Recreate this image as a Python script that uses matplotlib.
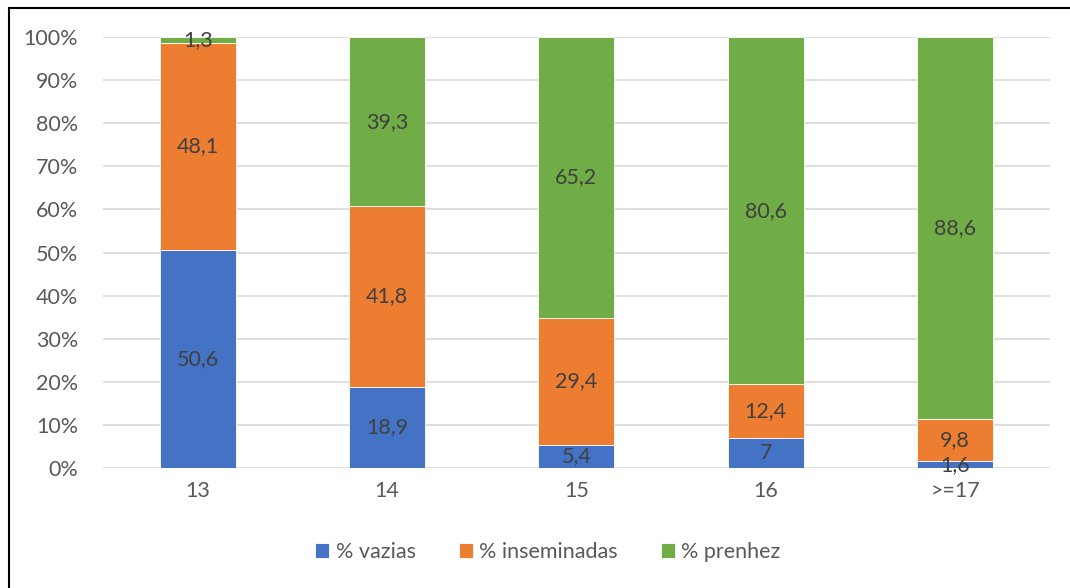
import numpy as np
import matplotlib.pyplot as plt
from matplotlib.lines import Line2D
from matplotlib.ticker import PercentFormatter

plt.rcParams['font.family'] = ['Lato', 'DejaVu Sans']

categorias = ['13', '14', '15', '16', '>=17']
vazias = [50.6, 18.9, 5.4, 7.0, 1.6]
inseminadas = [48.1, 41.8, 29.4, 12.4, 9.8]
prenhez = [1.3, 39.3, 65.2, 80.6, 88.6]
rotulos_vazias = ['50,6', '18,9', '5,4', '7', '1,6']
rotulos_inseminadas = ['48,1', '41,8', '29,4', '12,4', '9,8']
rotulos_prenhez = ['1,3', '39,3', '65,2', '80,6', '88,6']

fig = plt.figure(figsize=(10.7, 5.88), dpi=100)
ax = fig.add_axes([0.0963, 0.204, 0.8847, 0.733])

x = np.arange(len(categorias))
w = 0.4
series = [
    (vazias, rotulos_vazias, '#4472C4', '% vazias'),
    (inseminadas, rotulos_inseminadas, '#ED7D31', '% inseminadas'),
    (prenhez, rotulos_prenhez, '#70AD47', '% prenhez'),
]
base = np.zeros(len(categorias))
for vals, labs, cor, nome in series:
    vals = np.array(vals)
    ax.bar(x, vals, w, bottom=base, color=cor, label=nome,
           edgecolor='white', linewidth=0.6, zorder=3)
    for xi, b, v, t in zip(x, base, vals, labs):
        ax.text(xi, b + v / 2, t, ha='center', va='center',
                fontsize=15.5, color='#404040', zorder=4)
    base = base + vals

ax.set_xlim(-0.5, len(categorias) - 0.5)
ax.set_ylim(0, 100)
ax.set_yticks(np.arange(0, 101, 10))
ax.yaxis.set_major_formatter(PercentFormatter(decimals=0))
ax.set_xticks(x)
ax.set_xticklabels(categorias)
ax.tick_params(length=0, labelsize=15.5, colors='#595959', pad=9)
ax.tick_params(axis='y', pad=18)
ax.grid(axis='y', color='#D9D9D9', linewidth=1.2, zorder=0)
for s in ax.spines.values():
    s.set_visible(False)

ax.legend(loc='center', bbox_to_anchor=(0.512, 0.061), bbox_transform=fig.transFigure,
          ncol=3, frameon=False, fontsize=15.5, handlelength=0.65, handleheight=0.65,
          handletextpad=0.3, columnspacing=2.0, labelcolor='#595959')

# moldura
fig.add_artist(Line2D([0.0085, 0.0085], [0, 0.987], color='black', lw=1.5, transform=fig.transFigure))
fig.add_artist(Line2D([0.0085, 1.0], [0.987, 0.987], color='black', lw=1.5, transform=fig.transFigure))

fig.savefig('out.png', dpi=100)
